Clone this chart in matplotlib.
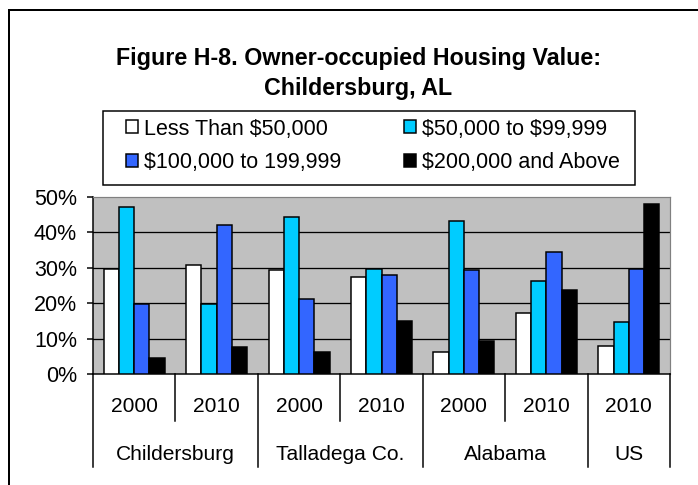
import matplotlib
matplotlib.use("Agg")
import matplotlib.pyplot as plt
import numpy as np
from matplotlib.patches import Rectangle
from matplotlib.lines import Line2D
from matplotlib.transforms import blended_transform_factory

plt.rcParams['font.family'] = ['Liberation Sans', 'DejaVu Sans']
plt.rcParams['text.parse_math'] = False

# ---- data ----
years = ["2000", "2010", "2000", "2010", "2000", "2010", "2010"]
places = ["Childersburg", "Talladega Co.", "Alabama", "US"]
place_spans = [2, 2, 2, 1]
series_names = ["Less Than $50,000", "$50,000 to $99,999",
                "$100,000 to 199,999", "$200,000 and Above"]
less_50k = [29.8, 30.9, 29.3, 27.5, 6.1, 17.1, 7.8]
k50_99k = [47.1, 19.8, 44.3, 29.8, 43.2, 26.4, 14.7]
k100_199k = [19.8, 42.0, 21.1, 28.0, 29.3, 34.6, 29.8]
k200_up = [4.5, 7.5, 6.3, 15.0, 9.2, 23.7, 47.9]
yticks = [0, 10, 20, 30, 40, 50]
ytick_labels = ["0%", "10%", "20%", "30%", "40%", "50%"]
title_lines = ["Figure H-8. Owner-occupied Housing Value:", "Childersburg, AL"]

colors = ["#FFFFFF", "#00CCFF", "#3366FF", "#000000"]

W, H = 698, 485
DPI = 72
fig = plt.figure(figsize=(W / DPI, H / DPI), dpi=DPI)
fig.patch.set_facecolor("white")

def fx(px):
    return px / W

def fy(py):
    return 1 - py / H

# outer border
fig.patches.append(Rectangle((fx(9), fy(500)), fx(730) - fx(9), fy(10) - fy(500),
                             transform=fig.transFigure, fill=False,
                             edgecolor="black", linewidth=2, zorder=0))

ax_l, ax_r, ax_t, ax_b = 93, 670, 197, 374
ax = fig.add_axes([fx(ax_l), fy(ax_b), fx(ax_r) - fx(ax_l), fy(ax_t) - fy(ax_b)])
ax.set_facecolor("#C0C0C0")

x = np.arange(len(years))
bw = 0.185
all_series = [less_50k, k50_99k, k100_199k, k200_up]
handles = []
for i, (vals, c, name) in enumerate(zip(all_series, colors, series_names)):
    b = ax.bar(x + (i - 1.5) * bw, vals, width=bw, color=c, edgecolor="black",
               linewidth=1.5, label=name, zorder=3)
    handles.append(b)

ax.set_xlim(-0.5, len(years) - 0.5)
ax.set_ylim(0, 50)
ax.set_yticks(yticks)
ax.set_yticklabels(ytick_labels, fontsize=21.5)
ax.tick_params(axis="y", direction="out", length=6, width=1.5, pad=10, colors="black")
ax.set_xticks([])
for yv in yticks[1:-1]:
    ax.axhline(yv, color="black", linewidth=1.3, zorder=1)
ax.spines["left"].set_linewidth(1.5)
ax.spines["bottom"].set_linewidth(1.5)
ax.spines["top"].set_color("#808080")
ax.spines["right"].set_color("#808080")
ax.spines["top"].set_linewidth(1.2)
ax.spines["right"].set_linewidth(1.2)

# category axis (two-level)
tr = blended_transform_factory(ax.transData, fig.transFigure)
for i, yr in enumerate(years):
    ax.text(i, fy(406), yr, transform=tr, ha="center", va="center", fontsize=21)
pos = 0
group_edges = [-0.5]
for span in place_spans:
    pos += span
    group_edges.append(pos - 0.5)
start = 0
for span in place_spans:
    for k in range(1, span):
        xs = start + k - 0.5
        fig.lines.append(Line2D([xs, xs], [fy(ax_b), fy(421)], transform=tr,
                                color="black", linewidth=1.5))
    start += span
for xs in group_edges:
    fig.lines.append(Line2D([xs, xs], [fy(ax_b), fy(467)], transform=tr,
                            color="black", linewidth=1.5))
start = 0
for name, span in zip(places, place_spans):
    cx = start + (span - 1) / 2
    ax.text(cx, fy(454), name, transform=tr, ha="center", va="center", fontsize=21)
    start += span

# title
fig.text(fx(359), fy(58), title_lines[0], ha="center", va="center",
         fontsize=23.2, fontweight="bold")
fig.text(fx(358), fy(88), title_lines[1], ha="center", va="center",
         fontsize=23.2, fontweight="bold")

# legend
fig.patches.append(Rectangle((fx(103), fy(185)), fx(635) - fx(103), fy(111) - fy(185),
                             transform=fig.transFigure, fill=True, facecolor="white",
                             edgecolor="black", linewidth=1.5, zorder=1))
order = [0, 2, 1, 3]
leg = fig.legend([handles[i] for i in order], [series_names[i] for i in order],
                 ncol=2, loc="center", bbox_to_anchor=(fx(373), fy(146)),
                 frameon=False, fontsize=21.5, handlelength=0.55, handleheight=0.55,
                 handletextpad=0.3, columnspacing=2.9, labelspacing=0.6,
                 borderpad=0.2)

fig.savefig("out.png", dpi=DPI)
